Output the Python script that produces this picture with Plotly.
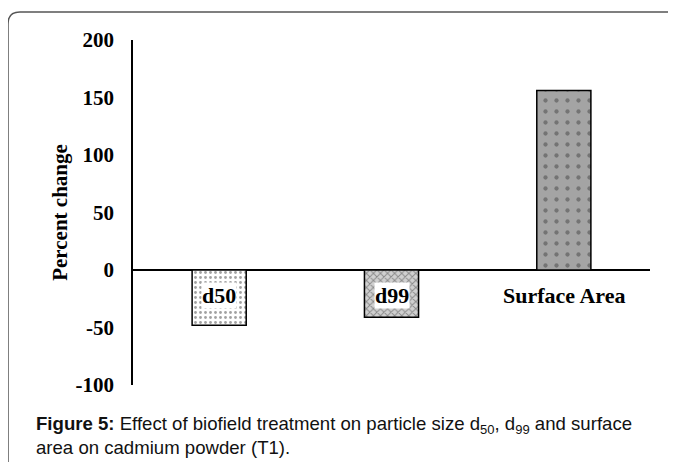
import plotly.graph_objects as go

categories = ["d50", "d99", "Surface Area"]
values = [-48, -41, 156]
tick_vals = [-100, -50, 0, 50, 100, 150, 200]
tick_text = ["-100", "-50", "0", "50", "100", "150", "200"]
label_y = [-22, -22, -22]

OFF = 8  # page body margin
W, H = 676 - OFF, 462 - OFF
ML, MR, MT, MB = 133 - OFF, 26, 40 - OFF, 77
PW, PH = W - ML - MR, H - MT - MB

def px(x):
    return (x - OFF - ML) / PW

def py(y):
    return (MT + PH - (y - OFF)) / PH

fig = go.Figure()
fig.add_trace(go.Bar(
    x=categories, y=values, width=0.314,
    marker=dict(
        color=["white", "#d0d0d0", "#a4a4a4"],
        line=dict(color="black", width=1.5),
        pattern=dict(
            shape=[".", "x", "."],
            fgcolor=["#8a8a8a", "#7a7a7a", "white"],
            bgcolor=["white", "#dcdcdc", "#a4a4a4"],
            size=[5, 5, 11],
            solidity=[0.25, 0.35, 0.12],
        ),
    ),
    showlegend=False,
    hoverinfo="skip",
))

for c, ly in zip(categories, label_y):
    fig.add_annotation(
        x=c, y=ly, xref="x", yref="y", text="<b>" + c + "</b>",
        showarrow=False, bgcolor="white", borderpad=0,
        font=dict(family="Liberation Serif", size=22, color="black"),
    )

# caption
fig.add_annotation(
    x=px(34), y=py(411), xref="paper", yref="paper", xanchor="left", yanchor="top",
    align="left", showarrow=False,
    text="<b>Figure 5:</b> Effect of biofield treatment on particle size d<sub>50</sub>, d<sub>99</sub> and surface<br>area on cadmium powder (T1).",
    font=dict(family="Liberation Sans", size=18.6, color="#111"),
)

# outer frame with rounded top-left corner
r = 12
path = (f"M {px(8)},{py(480)} L {px(8)},{py(12 + r)} "
        f"Q {px(8)},{py(12)} {px(8 + r)},{py(12)} L {px(700)},{py(12)}")
fig.add_shape(type="path", path=path, xref="paper", yref="paper",
              line=dict(color="#555555", width=1.5), layer="above")

fig.update_layout(
    width=W, height=H,
    margin=dict(l=ML, r=MR, t=MT, b=MB),
    paper_bgcolor="white", plot_bgcolor="white",
    xaxis=dict(range=[-0.5, 2.5], showticklabels=False, showline=False,
               showgrid=False, zeroline=False, ticks=""),
    yaxis=dict(range=[-100, 200], tickvals=tick_vals,
               ticktext=["<b>" + t + "</b>" for t in tick_text],
               showgrid=False, zeroline=True, zerolinecolor="black", zerolinewidth=1.5,
               showline=True, linecolor="black", linewidth=1.5, ticks="",
               ticklabelstandoff=13,
               tickfont=dict(family="Liberation Serif", size=21, color="black"),
               title=dict(text="<b>Percent change</b>", standoff=2,
                          font=dict(family="Liberation Serif", size=21, color="black"))),
)

fig.write_html("out.html")
